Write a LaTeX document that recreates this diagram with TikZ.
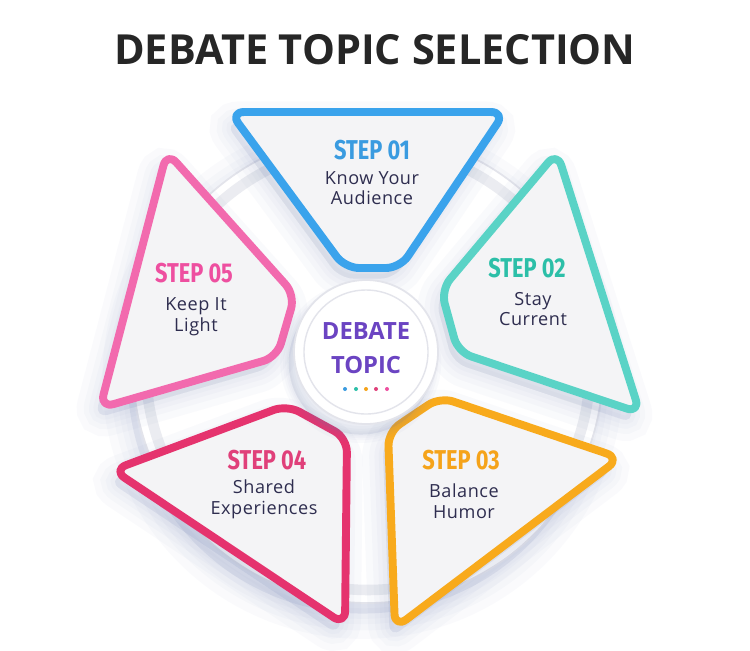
\documentclass[tikz,border=0pt]{standalone}
\usepackage{fontspec}
\setmainfont{Open Sans}
\newfontfamily\stepfont[FakeStretch=0.8]{Fira Sans}
\newfontfamily\descfont[LetterSpace=3]{Open Sans}
\definecolor{titlegray}{HTML}{262626}
\definecolor{textnavy}{HTML}{2E2D4F}
\definecolor{hubpurple}{HTML}{6B44C2}
\definecolor{panelgray}{HTML}{F4F4F6}
\definecolor{rimgray}{HTML}{E3E4EB}
\definecolor{shadowblue}{HTML}{6F7FB0}
\definecolor{blueB}{HTML}{3AA3EC}
\definecolor{tealB}{HTML}{5AD3C6}
\definecolor{orangeB}{HTML}{F8AA1C}
\definecolor{crimsonB}{HTML}{E5336E}
\definecolor{pinkB}{HTML}{F26AAE}
\definecolor{blueT}{HTML}{3A9BE0}
\definecolor{tealT}{HTML}{2CBFA8}
\definecolor{orangeT}{HTML}{F5A31A}
\definecolor{crimsonT}{HTML}{E0407A}
\definecolor{pinkT}{HTML}{EE4FA0}

\begin{document}
\begin{tikzpicture}[x=0.02cm,y=-0.02cm,
  softshadow/.style={
    preaction={draw=shadowblue,fill=shadowblue,opacity=0.035,line width=#1*2.4,transform canvas={shift={(-3pt,-6pt)}}},
    preaction={draw=shadowblue,fill=shadowblue,opacity=0.035,line width=#1*1.6,transform canvas={shift={(-3pt,-6pt)}}},
    preaction={draw=shadowblue,fill=shadowblue,opacity=0.035,line width=#1,transform canvas={shift={(-3pt,-6pt)}}},
    preaction={draw=shadowblue,fill=shadowblue,opacity=0.035,line width=#1*0.5,transform canvas={shift={(-3pt,-6pt)}}}},
  panel/.style={draw=#1,fill=panelgray,line width=4.5pt,rounded corners=8pt,line join=round,softshadow=10pt},
  steplabel/.style={text=#1,font=\stepfont\bfseries\fontsize{15.5}{16}\selectfont},
  desc/.style={text=textnavy,align=center,font=\descfont\fontsize{10.3}{11.8}\selectfont}]
% \draw[help lines] (0,0) grid (750,650);
\useasboundingbox (0,0) rectangle (750,650);
\node (title) [text=titlegray,font=\bfseries\fontsize{23.6}{26}\selectfont] at (375,50) {DEBATE TOPIC SELECTION};
%
\path[fill=white,draw=rimgray,line width=1pt,softshadow=12pt] (368,368) circle[radius=235];
\draw[rimgray!70,line width=6pt] (368,368) circle[radius=222];
%
\path[panel=pinkB] (167,152) -- (295,295) -- (277,357) -- (100,408) -- cycle;
\path[panel=blueB] (230,112) -- (505,112) -- (400,268) -- (345,268) -- cycle;
\path[panel=tealB] (557,152) -- (640,413) -- (458,352) -- (441,290) -- cycle;
\path[panel=orangeB] (440,397) -- (620,458) -- (395,628) -- (388,432) -- cycle;
\path[panel=crimsonB] (113,470) -- (287,405) -- (347,438) -- (345,625) -- cycle;
%
\path[fill=white,draw=rimgray,line width=1pt,softshadow=4pt] (366,352) circle[radius=72];
\draw[rimgray,line width=0.8pt] (366,352) circle[radius=62];
%
\node (step1) [steplabel=blueT] at (372,150) {STEP 01};
\node (desc1) [desc] at (372,188) {Know Your\\Audience};
\node (step2) [steplabel=tealT] at (527,268) {STEP 02};
\node (desc2) [desc] at (533,309) {Stay\\Current};
\node (step3) [steplabel=orangeT] at (461,460) {STEP 03};
\node (desc3) [desc] at (464,501) {Balance\\Humor};
\node (step4) [steplabel=crimsonT] at (267,460) {STEP 04};
\node (desc4) [desc] at (264,499) {Shared\\Experiences};
\node (step5) [steplabel=pinkT] at (194,273) {STEP 05};
\node (desc5) [desc] at (196,317) {Keep It\\Light};
%
\node (hub) [text=hubpurple,align=center,font=\bfseries\fontsize{13.5}{19.8}\selectfont] at (366,348) {DEBATE\\TOPIC};
\foreach \dx/\dc in {345/blueT,356/tealT,366/orangeT,376/crimsonT,387/pinkT}
  \fill[\dc] (\dx,389) circle[radius=2];
\end{tikzpicture}
\end{document}
